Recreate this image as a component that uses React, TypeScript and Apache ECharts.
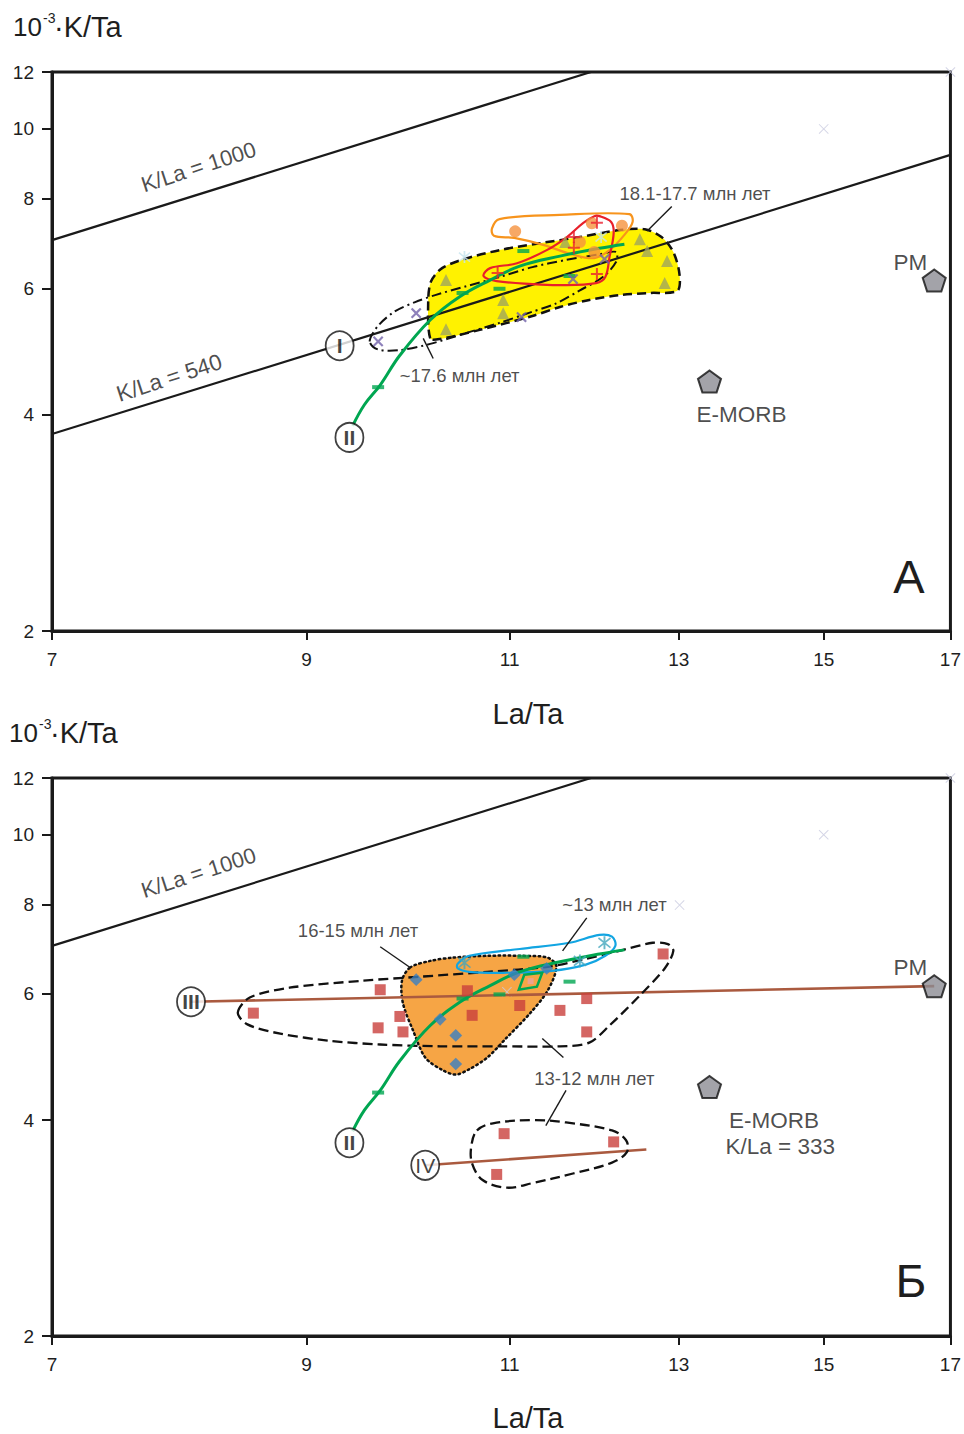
import { useEffect, useRef } from 'react';
import * as echarts from 'echarts';

const FF = '"Liberation Sans", Arial, sans-serif';
const lg = Math.log;

// ticks
const xTicks = [7, 9, 11, 13, 15, 17];
const yTicks = [2, 4, 6, 8, 10, 12];

// reference lines
const kla1000 = [[7, 7.0], [11.92, 12]];
const kla540 = [[7, 3.76], [17, 9.2]];
const lineIII = [[8.03, 5.85], [16.73, 6.15]];
const lineIV = [[10.12, 3.46], [12.59, 3.64]];

// reference points
const pm = [[16.73, 6.15]];
const emorb = [[13.4, 4.45]];
const faintA = [[15, 10], [17, 12]];
const faintB = [[15, 10], [17, 12], [13.01, 7.98], [10.97, 6.04]];

// green trend II (same in both panels)
const curveII = [[9.42, 3.86], [9.53, 4.13], [9.68, 4.4], [9.87, 4.84], [10.17, 5.42], [10.47, 5.84], [10.79, 6.16], [11.11, 6.44], [11.56, 6.65], [12.02, 6.82], [12.32, 6.91]];
const greenDashes = [[9.66, 4.37], [10.5, 5.91], [10.89, 5.99], [11.15, 6.76], [11.67, 6.24]];

// panel A fields
const yellowField = [[10.17, 5.11], [10.15, 5.78], [10.18, 6.14], [10.29, 6.4], [10.52, 6.59], [10.89, 6.78], [11.33, 6.93], [11.79, 7.07], [12.26, 7.23], [12.57, 7.25], [12.78, 7.07], [12.93, 6.74], [13.01, 6.26], [12.98, 5.95], [12.63, 5.91], [12.26, 5.87], [11.9, 5.78], [11.56, 5.65], [11.25, 5.49], [10.68, 5.25], [10.27, 5.1]];
const orangeLoopA = [[10.81, 7.27], [10.89, 7.49], [11.56, 7.59], [12.38, 7.61], [12.42, 7.42], [12.32, 7.12], [12.14, 6.78], [11.96, 6.61], [11.73, 6.67], [11.38, 6.89], [11.05, 7.05], [10.83, 7.1]];
const redLoopA = [[12.02, 7.56], [12.16, 7.42], [12.19, 7.16], [12.14, 6.63], [12.09, 6.22], [11.98, 6.1], [11.56, 6.06], [11.25, 6.08], [10.86, 6.14], [10.72, 6.24], [10.79, 6.4], [11.08, 6.5], [11.41, 6.78], [11.64, 7.07], [11.83, 7.4], [11.96, 7.56]];
const dashDotLoopA = [[9.58, 5.06], [9.66, 5.32], [9.82, 5.57], [10.02, 5.74], [10.22, 5.87], [10.54, 6.04], [10.89, 6.22], [11.25, 6.42], [11.63, 6.57], [12.02, 6.69], [12.22, 6.74], [12.22, 6.53], [12.06, 6.22], [11.79, 5.96], [11.51, 5.71], [11.22, 5.55], [10.89, 5.37], [10.54, 5.2], [10.17, 5.02], [9.87, 4.92], [9.66, 4.93]];

// panel A samples
const trianglesA = [[10.33, 6.16], [10.93, 5.78], [10.93, 5.54], [10.33, 5.26], [11.62, 6.96], [12.51, 7.02], [12.6, 6.76], [12.85, 6.55], [12.82, 6.1]];
const orangeDotsA = [[11.06, 7.2], [11.93, 7.39], [12.29, 7.33], [11.79, 6.96], [11.96, 6.74]];
const redPlusA = [[11.99, 7.4], [11.72, 7.07], [11.72, 6.83], [10.87, 6.3], [11.99, 6.28]];
const purpleCrossA = [[10.03, 5.54], [11.13, 5.47], [11.71, 6.18], [12.08, 6.59], [9.66, 5.06]];
const faintStarsA = [[10.52, 6.63], [12.04, 7.07]];

// panel B fields
const bigDashedB = [[8.41, 5.65], [8.51, 5.93], [8.85, 6.12], [9.52, 6.26], [10.07, 6.34], [10.76, 6.44], [11.44, 6.55], [11.87, 6.72], [12.26, 6.89], [12.67, 7.07], [12.86, 7.04], [12.93, 6.89], [12.82, 6.51], [12.51, 5.97], [12.14, 5.42], [11.9, 5.13], [11.56, 5.07], [10.89, 5.07], [10.27, 5.07], [9.68, 5.1], [9.21, 5.16], [8.77, 5.28], [8.49, 5.44]];
const orangeFieldB = [[9.97, 6.53], [10.17, 6.67], [10.4, 6.74], [10.76, 6.78], [11.11, 6.78], [11.42, 6.74], [11.52, 6.55], [11.42, 6.06], [11.22, 5.63], [10.96, 5.2], [10.76, 4.89], [10.57, 4.71], [10.43, 4.63], [10.29, 4.7], [10.12, 4.89], [10.0, 5.33], [9.9, 5.82], [9.89, 6.26]];
const blueLoopB = [[10.45, 6.61], [10.57, 6.78], [11.11, 6.93], [11.67, 7.07], [12.02, 7.25], [12.17, 7.21], [12.21, 7.0], [12.09, 6.78], [11.86, 6.59], [11.47, 6.46], [10.93, 6.42], [10.57, 6.44], [10.45, 6.51]];
const lowerDashedB = [[10.65, 3.87], [10.82, 3.96], [11.26, 4.0], [11.63, 3.97], [12.17, 3.87], [12.34, 3.75], [12.35, 3.61], [12.17, 3.49], [11.71, 3.37], [11.26, 3.27], [10.97, 3.22], [10.71, 3.3], [10.6, 3.48], [10.59, 3.67]];
const greenQuadB = [[11.16, 6.38], [11.36, 6.42], [11.3, 6.14], [11.1, 6.08]];

// panel B samples
const redSquaresB = [[9.68, 6.08], [8.54, 5.64], [9.87, 5.58], [9.66, 5.38], [9.9, 5.31], [10.55, 6.06], [11.11, 5.78], [10.6, 5.6], [11.87, 5.91], [11.56, 5.69], [11.87, 5.31], [12.8, 6.82], [10.94, 3.83], [12.19, 3.73], [10.86, 3.36]];
const blueDiamondsB = [[10.03, 6.28], [11.05, 6.38], [11.41, 6.51], [10.27, 5.53], [10.43, 5.25], [10.43, 4.79]];
const asterisksB = [[10.52, 6.63], [11.79, 6.67], [12.08, 7.07]];
const pinkB = [[11.23, 6.25]];

// roman numeral markers
const circlesA = [[9.3, 4.99, 'I'], [9.39, 3.72, 'II']];
const circlesB = [[8.03, 5.85, 'III'], [9.39, 3.72, 'II'], [10.12, 3.46, 'IV']];

// leader lines
const leadersA = [[[12.6, 7.21], [12.91, 7.8]], [[10.1, 5.11], [10.2, 4.79]]];
const leadersB = [[[9.68, 6.98], [9.97, 6.53]], [[11.87, 7.66], [11.59, 6.89]], [[11.6, 4.89], [11.36, 5.2]], [[11.63, 4.4], [11.4, 3.93]]];

// labels: x, y, text, rotation, font size
const labelsA = [
  [8.09, 8.85, 'K/La = 1000', 18, 22],
  [7.86, 4.5, 'K/La = 540', 18, 22.5],
  [13.21, 8.14, '18.1-17.7 млн лет', 0, 18.5],
  [10.47, 4.53, '~17.6 млн лет', 0, 18.5],
  [16.34, 6.52, 'PM', 0, 22.5],
  [13.83, 4.0, 'E-MORB', 0, 22.5],
];
const labelsB = [
  [8.09, 8.85, 'K/La = 1000', 18, 22],
  [9.47, 7.35, '16-15 млн лет', 0, 18.5],
  [12.2, 7.99, '~13 млн лет', 0, 18.5],
  [11.96, 4.57, '13-12 млн лет', 0, 18.5],
  [16.34, 6.52, 'PM', 0, 22.5],
  [14.28, 4.0, 'E-MORB', 0, 22.5],
  [14.37, 3.67, 'K/La = 333', 0, 22.5],
];

const PLUS = 'path://M5,0H7V5H12V7H7V12H5V7H0V5H5Z';
const THIN_X = 'path://M0,0.8L0.8,0L12,11.2L11.2,12Z M11.2,0L12,0.8L0.8,12L0,11.2Z';
const ASTER = 'path://M5.2,0H6.8V12H5.2Z M0.6,2.2L1.4,0.9L11.4,9.8L10.6,11.1Z M0.6,9.8L10.6,0.9L11.4,2.2L1.4,11.1Z';
const PENTA = 'path://M12,0L24,8.7L19.4,22.8L4.6,22.8L0,8.7Z';

const toL = (p: number[]) => [lg(p[0]), lg(p[1])];

function poly(pts: number[][], gi: number, style: any, smooth: number, z: number) {
  return {
    type: 'custom', xAxisIndex: gi, yAxisIndex: gi, z, silent: true,
    data: [toL(pts[0])],
    renderItem: (_p: any, api: any) => ({
      type: 'polygon',
      shape: { points: pts.map((p) => api.coord(toL(p))), smooth },
      style,
    }),
  };
}

function line(pts: number[][], gi: number, color: string, width: number, z: number, extra: any = {}) {
  return {
    type: 'line', xAxisIndex: gi, yAxisIndex: gi, z, silent: true, symbol: 'none',
    data: pts.map(toL), lineStyle: { color, width, ...(extra.lineStyle || {}) },
    smooth: extra.smooth || false,
  };
}

function pts(data: number[][], gi: number, symbol: string, size: any, color: string, z: number, extra: any = {}) {
  return {
    type: 'scatter', xAxisIndex: gi, yAxisIndex: gi, z, silent: true,
    symbol, symbolSize: size, data: data.map(toL),
    itemStyle: { color, ...(extra.itemStyle || {}) },
    symbolRotate: extra.rotate || 0,
  };
}

function circles(items: any[], gi: number) {
  return {
    type: 'scatter', xAxisIndex: gi, yAxisIndex: gi, z: 8, silent: true,
    symbol: 'circle', symbolSize: [28, 29],
    itemStyle: { color: '#fff', borderColor: '#111', borderWidth: 1.8 },
    data: items.map((it) => ({
      value: [lg(it[0]), lg(it[1])],
      label: { formatter: it[2], fontWeight: it[2] === 'IV' ? 'normal' : 'bold' },
    })),
    label: { show: true, position: 'inside', color: '#111', fontSize: 21, fontFamily: FF },
  };
}

function texts(items: any[], gi: number) {
  return {
    type: 'scatter', xAxisIndex: gi, yAxisIndex: gi, z: 9, silent: true,
    symbolSize: 1, itemStyle: { color: 'rgba(0,0,0,0)' },
    data: items.map((it) => ({
      value: [lg(it[0]), lg(it[1])],
      label: { formatter: it[2], rotate: it[3], fontSize: it[4] },
    })),
    label: { show: true, position: 'inside', color: '#1e1e1e', fontFamily: FF },
  };
}

function leaders(list: number[][][], gi: number) {
  return list.map((l) => line(l, gi, '#1a1a1a', 1.4, 7));
}

function xAxis(gi: number) {
  const vals = xTicks.map(lg);
  return {
    type: 'value', gridIndex: gi, min: lg(7), max: lg(17),
    axisLine: { show: true, onZero: false, lineStyle: { color: '#1a1a1a', width: 3 } },
    axisTick: { show: true, length: 9, customValues: vals, lineStyle: { color: '#1a1a1a', width: 2 } },
    axisLabel: { customValues: vals, formatter: (v: number) => String(Math.round(Math.exp(v))), fontSize: 19, color: '#1e1e1e', margin: 19, fontFamily: FF },
    splitLine: { show: false },
  };
}
function yAxis(gi: number) {
  const vals = yTicks.map(lg);
  return {
    type: 'value', gridIndex: gi, min: lg(2), max: lg(12),
    axisLine: { show: true, onZero: false, lineStyle: { color: '#1a1a1a', width: 3 } },
    axisTick: { show: true, length: 10, customValues: vals, lineStyle: { color: '#1a1a1a', width: 2 } },
    axisLabel: { customValues: vals, formatter: (v: number) => String(Math.round(Math.exp(v))), fontSize: 19, color: '#1e1e1e', margin: 18, fontFamily: FF },
    splitLine: { show: false },
  };
}

function txt(x: number, y: number, text: string, fontSize: number, align = 'left') {
  return {
    type: 'text', x, y, z: 20, silent: true,
    style: { text, fontSize, fontFamily: FF, fill: '#1e1e1e', align, verticalAlign: 'middle', textAlign: align, textVerticalAlign: 'middle' },
  };
}

function panelSeriesCommon(gi: number) {
  return [
    line(kla1000, gi, '#1a1a1a', 2.2, 3),
    line(curveII, gi, '#00a651', 3, 5, { smooth: 0.4 }),
    pts(greenDashes, gi, 'rect', [12, 4], '#00a651', 6),
    pts(pm, gi, PENTA, [23, 22], '#8c8c94', 6, { itemStyle: { borderColor: '#111', borderWidth: 2 } }),
    pts(emorb, gi, PENTA, [23, 22], '#8c8c94', 6, { itemStyle: { borderColor: '#111', borderWidth: 2 } }),
  ];
}

const option: any = {
  animation: false,
  backgroundColor: '#ffffff',
  grid: [
    { left: 52, top: 72, width: 899, height: 559, show: true, borderColor: '#1a1a1a', borderWidth: 3, backgroundColor: 'transparent' },
    { left: 52, top: 778, width: 899, height: 558, show: true, borderColor: '#1a1a1a', borderWidth: 3, backgroundColor: 'transparent' },
  ],
  xAxis: [xAxis(0), xAxis(1)],
  yAxis: [yAxis(0), yAxis(1)],
  series: [
    // Panel A
    poly(yellowField, 0, { fill: '#fff200', stroke: '#111', lineWidth: 2.5, lineDash: [9, 5] }, 0.3, 1),
    line(kla540, 0, '#1a1a1a', 2.2, 3),
    poly(dashDotLoopA, 0, { fill: 'none', stroke: '#111', lineWidth: 2, lineDash: [10, 4, 2, 4] }, 0.3, 4),
    poly(orangeLoopA, 0, { fill: 'none', stroke: '#f7941d', lineWidth: 2.2 }, 0.35, 4),
    poly(redLoopA, 0, { fill: 'none', stroke: '#e8202a', lineWidth: 2.2 }, 0.35, 4),
    ...panelSeriesCommon(0),
    pts(trianglesA, 0, 'triangle', 12, '#a0a55c', 6),
    pts(orangeDotsA, 0, 'circle', 12, '#f5923e', 6),
    pts(redPlusA, 0, PLUS, 12, '#e82030', 6),
    pts(purpleCrossA, 0, PLUS, 13, '#7262aa', 6, { rotate: 45 }),
    pts(faintStarsA, 0, ASTER, 12, '#c6e4ee', 2),
    pts(faintA, 0, THIN_X, 10, '#c9cbe0', 2),
    ...leaders(leadersA, 0),
    circles(circlesA, 0),
    texts(labelsA, 0),

    // Panel B
    poly(orangeFieldB, 1, { fill: '#f6a545', stroke: '#111', lineWidth: 2.5, lineDash: [1.5, 3.5], lineCap: 'round' }, 0.3, 1),
    poly(bigDashedB, 1, { fill: 'none', stroke: '#111', lineWidth: 2.3, lineDash: [10, 5] }, 0.3, 4),
    poly(lowerDashedB, 1, { fill: 'none', stroke: '#111', lineWidth: 2.3, lineDash: [10, 5] }, 0.35, 4),
    poly(blueLoopB, 1, { fill: 'none', stroke: '#12a5e2', lineWidth: 2.2 }, 0.35, 4),
    poly(greenQuadB, 1, { fill: 'none', stroke: '#00a651', lineWidth: 2.5 }, 0, 5),
    line(lineIII, 1, '#aa5a3f', 2.6, 3),
    line(lineIV, 1, '#aa5a3f', 2.6, 3),
    ...panelSeriesCommon(1),
    pts(redSquaresB, 1, 'rect', 11, '#c9403c', 6),
    pts(blueDiamondsB, 1, 'rect', 9, '#3a7fc2', 6, { rotate: 45 }),
    pts(asterisksB, 1, ASTER, 13, '#43a6bd', 6),
    pts(pinkB, 1, 'rect', 6, '#e9a3a3', 5),
    pts(faintB, 1, THIN_X, 10, '#c9cbe0', 2),
    ...leaders(leadersB, 1),
    circles(circlesB, 1),
    texts(labelsB, 1),
  ],
  graphic: [
    txt(13, 27, '10', 26),
    txt(43, 18, '-3', 14),
    txt(54, 27, '·K/Ta', 29),
    txt(9, 733, '10', 26),
    txt(39, 724, '-3', 14),
    txt(50, 733, '·K/Ta', 29),
    txt(528, 714, 'La/Ta', 29, 'center'),
    txt(528, 1418, 'La/Ta', 29, 'center'),
    txt(909, 576, 'А', 47, 'center'),
    txt(911, 1280, 'Б', 47, 'center'),
  ],
};

export default function App() {
  const ref = useRef<HTMLDivElement>(null);
  useEffect(() => {
    document.body.style.margin = '0';
    const chart = echarts.init(ref.current!, null, { renderer: 'svg' });
    chart.setOption(option);
    return () => chart.dispose();
  }, []);
  return <div ref={ref} style={{ width: 964, height: 1434 }} />;
}
